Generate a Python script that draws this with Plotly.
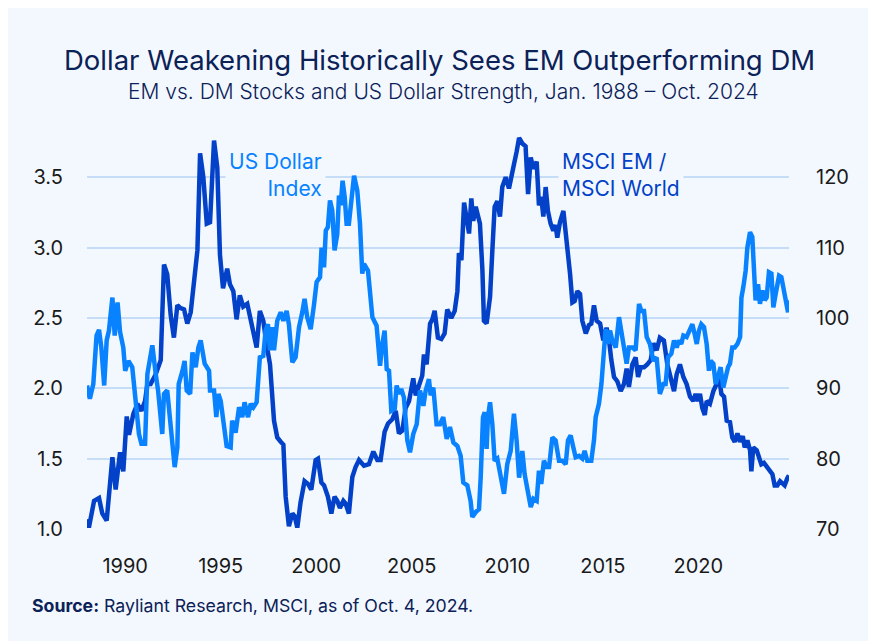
import plotly.graph_objects as go

# ---------------- data ----------------
em_years = [1988.0, 1988.1, 1988.37, 1988.63, 1988.8, 1989.03, 1989.33, 1989.5, 1989.73, 1989.9,
            1990.08, 1990.2, 1990.43, 1990.64, 1990.85, 1991.04, 1991.16, 1991.33, 1991.6, 1991.86,
            1992.03, 1992.2, 1992.38, 1992.55, 1992.73, 1992.9, 1993.08, 1993.25, 1993.43, 1993.6,
            1993.78, 1993.92, 1994.09, 1994.27, 1994.44, 1994.65, 1994.82, 1994.96, 1995.12, 1995.34,
            1995.48, 1995.66, 1995.83, 1996.0, 1996.18, 1996.39, 1996.57, 1996.71, 1996.88, 1997.05,
            1997.23, 1997.4, 1997.58, 1997.79, 1997.96, 1998.14, 1998.28, 1998.4, 1998.57, 1998.75,
            1998.87, 1999.01, 1999.18, 1999.39, 1999.57, 1999.74, 1999.97, 2000.09, 2000.27, 2000.41,
            2000.61, 2000.79, 2000.96, 2001.1, 2001.24, 2001.42, 2001.54, 2001.71, 2001.89, 2002.06,
            2002.24, 2002.5, 2002.76, 2002.99, 2003.2, 2003.37, 2003.58, 2003.76, 2003.98, 2004.16,
            2004.33, 2004.51, 2004.68, 2004.86, 2005.08, 2005.21, 2005.38, 2005.55, 2005.64, 2005.78,
            2005.96, 2006.08, 2006.2, 2006.37, 2006.55, 2006.72, 2006.86, 2007.07, 2007.25, 2007.39,
            2007.47, 2007.6, 2007.74, 2007.88, 2008.0, 2008.12, 2008.22, 2008.35, 2008.57, 2008.7,
            2008.78, 2008.92, 2009.1, 2009.22, 2009.34, 2009.48, 2009.62, 2009.74, 2009.92, 2010.09,
            2010.21, 2010.35, 2010.49, 2010.62, 2010.79, 2010.96, 2011.09, 2011.23, 2011.37, 2011.54,
            2011.66, 2011.78, 2011.89, 2012.01, 2012.13, 2012.27, 2012.41, 2012.53, 2012.62, 2012.76,
            2012.94, 2013.06, 2013.18, 2013.29, 2013.41, 2013.53, 2013.67, 2013.81, 2013.93, 2014.11,
            2014.28, 2014.4, 2014.54, 2014.68, 2014.86, 2015.03, 2015.2, 2015.33, 2015.45, 2015.59,
            2015.76, 2015.94, 2016.11, 2016.25, 2016.37, 2016.55, 2016.72, 2016.85, 2016.99, 2017.16,
            2017.33, 2017.51, 2017.65, 2017.82, 2017.99, 2018.2, 2018.38, 2018.56, 2018.73, 2018.87,
            2019.04, 2019.22, 2019.39, 2019.57, 2019.74, 2019.86, 2019.99, 2020.09, 2020.21, 2020.34,
            2020.44, 2020.61, 2020.79, 2020.96, 2021.09, 2021.21, 2021.35, 2021.49, 2021.66, 2021.78,
            2021.91, 2022.05, 2022.19, 2022.33, 2022.43, 2022.57, 2022.71, 2022.78, 2022.88, 2023.06,
            2023.18, 2023.3, 2023.44, 2023.62, 2023.76, 2023.88, 2024.0, 2024.14, 2024.28, 2024.4,
            2024.52, 2024.66, 2024.75]
em_ratio = [1.07, 1.01, 1.20, 1.22, 1.11, 1.06, 1.51, 1.28, 1.545, 1.41,
            1.80, 1.67, 1.82, 1.89, 1.84, 1.91, 2.03, 2.03, 2.10, 2.20,
            2.88, 2.81, 2.52, 2.36, 2.59, 2.57, 2.56, 2.46, 2.54, 2.77,
            2.98, 3.67, 3.50, 3.17, 3.18, 3.76, 3.57, 2.95, 2.71, 2.85,
            2.74, 2.69, 2.49, 2.66, 2.58, 2.60, 2.48, 2.41, 2.29, 2.55,
            2.48, 2.31, 2.17, 1.77, 1.65, 1.62, 1.60, 1.23, 1.02, 1.11,
            1.09, 1.01, 1.19, 1.34, 1.32, 1.28, 1.49, 1.50, 1.33, 1.31,
            1.23, 1.11, 1.23, 1.20, 1.15, 1.20, 1.18, 1.11, 1.37, 1.44,
            1.49, 1.45, 1.46, 1.55, 1.49, 1.49, 1.69, 1.75, 1.78, 1.84,
            1.68, 1.70, 1.86, 1.91, 2.07, 1.95, 2.01, 2.09, 2.24, 2.17,
            2.46, 2.49, 2.55, 2.36, 2.35, 2.39, 2.56, 2.50, 2.55, 2.69,
            2.96, 2.91, 3.32, 3.22, 3.10, 3.35, 3.19, 3.29, 3.17, 2.84,
            2.48, 2.46, 2.65, 2.98, 3.29, 3.33, 3.22, 3.43, 3.50, 3.42,
            3.52, 3.59, 3.68, 3.78, 3.74, 3.72, 3.38, 3.64, 3.56, 3.61,
            3.30, 3.36, 3.22, 3.43, 3.26, 3.17, 3.12, 3.16, 3.07, 3.18,
            3.26, 3.12, 2.93, 2.81, 2.61, 2.62, 2.69, 2.67, 2.48, 2.39,
            2.45, 2.46, 2.59, 2.48, 2.46, 2.34, 2.43, 2.34, 2.20, 2.08,
            2.05, 1.98, 2.03, 2.14, 2.01, 2.17, 2.22, 2.08, 2.15, 2.15,
            2.17, 2.20, 2.32, 2.27, 2.36, 2.34, 2.17, 2.08, 1.98, 2.10,
            2.17, 2.08, 2.03, 1.94, 1.91, 1.96, 1.91, 1.96, 1.86, 1.81,
            1.91, 1.89, 1.98, 2.03, 2.08, 1.96, 1.94, 1.77, 1.76, 1.65,
            1.62, 1.68, 1.62, 1.66, 1.58, 1.63, 1.56, 1.41, 1.58, 1.56,
            1.51, 1.46, 1.47, 1.44, 1.41, 1.39, 1.31, 1.31, 1.34, 1.32,
            1.31, 1.36, 1.38]

usd_years = [1988.0, 1988.15, 1988.33, 1988.5, 1988.63, 1988.75, 1988.9, 1989.03, 1989.15, 1989.33,
             1989.45, 1989.6, 1989.73, 1989.9, 1990.0, 1990.17, 1990.37, 1990.55, 1990.72, 1990.85,
             1991.04, 1991.16, 1991.42, 1991.6, 1991.72, 1991.94, 1992.03, 1992.2, 1992.35, 1992.59,
             1992.73, 1992.8, 1993.0, 1993.11, 1993.22, 1993.4, 1993.52, 1993.69, 1993.83, 1993.95,
             1994.16, 1994.39, 1994.44, 1994.65, 1994.77, 1994.88, 1995.0, 1995.17, 1995.31, 1995.52,
             1995.6, 1995.78, 1995.96, 1996.13, 1996.25, 1996.43, 1996.57, 1996.71, 1996.88, 1997.05,
             1997.23, 1997.35, 1997.47, 1997.58, 1997.7, 1997.79, 1997.96, 1998.14, 1998.28, 1998.45,
             1998.57, 1998.66, 1998.75, 1998.92, 1999.1, 1999.27, 1999.39, 1999.53, 1999.71, 1999.88,
             2000.02, 2000.2, 2000.28, 2000.41, 2000.5, 2000.61, 2000.72, 2000.84, 2000.96, 2001.1,
             2001.19, 2001.28, 2001.38, 2001.49, 2001.59, 2001.71, 2001.84, 2001.98, 2002.15, 2002.29,
             2002.41, 2002.5, 2002.71, 2002.94, 2003.16, 2003.34, 2003.46, 2003.58, 2003.69, 2003.81,
             2003.93, 2004.11, 2004.21, 2004.33, 2004.45, 2004.59, 2004.77, 2004.91, 2005.08, 2005.26,
             2005.43, 2005.61, 2005.73, 2005.9, 2005.99, 2006.13, 2006.3, 2006.48, 2006.65, 2006.83,
             2007.0, 2007.18, 2007.39, 2007.56, 2007.7, 2007.91, 2008.08, 2008.17, 2008.35, 2008.52,
             2008.61, 2008.73, 2008.82, 2008.92, 2008.99, 2009.1, 2009.22, 2009.34, 2009.48, 2009.66,
             2009.83, 2010.0, 2010.18, 2010.35, 2010.49, 2010.62, 2010.79, 2010.91, 2011.09, 2011.23,
             2011.37, 2011.54, 2011.66, 2011.78, 2011.92, 2012.06, 2012.19, 2012.36, 2012.53, 2012.71,
             2012.88, 2013.06, 2013.18, 2013.32, 2013.46, 2013.58, 2013.76, 2013.93, 2014.05, 2014.19,
             2014.4, 2014.54, 2014.63, 2014.8, 2014.93, 2015.03, 2015.15, 2015.28, 2015.38, 2015.5,
             2015.68, 2015.85, 2015.97, 2016.11, 2016.25, 2016.37, 2016.55, 2016.72, 2016.9, 2017.02,
             2017.16, 2017.3, 2017.47, 2017.65, 2017.82, 2017.99, 2018.17, 2018.29, 2018.42, 2018.59,
             2018.73, 2018.87, 2018.99, 2019.11, 2019.22, 2019.39, 2019.52, 2019.69, 2019.81, 2019.92,
             2020.04, 2020.16, 2020.3, 2020.44, 2020.56, 2020.65, 2020.79, 2020.91, 2021.03, 2021.17,
             2021.31, 2021.44, 2021.56, 2021.66, 2021.78, 2021.91, 2022.05, 2022.19, 2022.26, 2022.36,
             2022.48, 2022.57, 2022.71, 2022.83, 2022.92, 2023.0, 2023.13, 2023.23, 2023.36, 2023.48,
             2023.58, 2023.7, 2023.83, 2023.93, 2024.05, 2024.23, 2024.35, 2024.49, 2024.63, 2024.7,
             2024.75]
usd_index = [90.4, 88.5, 90.6, 97.5, 98.3, 95.8, 90.4, 96.8, 98.2, 102.9,
             97.5, 102.2, 98.0, 95.8, 92.5, 93.9, 93.0, 88.7, 83.5, 82.1,
             82.1, 92.0, 96.1, 92.0, 89.7, 83.5, 89.2, 89.7, 85.4, 78.8,
             81.6, 90.6, 92.5, 93.9, 89.7, 89.2, 95.1, 93.0, 95.8, 96.8,
             93.5, 92.5, 89.7, 89.7, 85.9, 89.2, 88.2, 84.0, 81.8, 81.6,
             85.4, 83.7, 87.3, 85.9, 88.0, 85.9, 87.8, 87.3, 88.0, 94.4,
             94.6, 98.2, 99.1, 95.4, 98.7, 95.4, 99.6, 100.8, 99.6, 101.0,
             99.1, 96.3, 93.7, 94.4, 98.7, 100.8, 102.7, 100.1, 98.4, 101.8,
             105.1, 105.8, 110.0, 107.2, 112.4, 112.9, 116.7, 115.3, 109.6, 111.9,
             117.4, 116.0, 119.5, 117.2, 113.4, 113.4, 116.4, 120.2, 118.1, 113.4,
             106.3, 107.7, 106.7, 100.1, 98.9, 93.2, 96.3, 98.2, 92.7, 92.5,
             86.8, 87.1, 90.4, 89.2, 89.9, 88.7, 82.6, 80.9, 83.5, 84.9,
             89.7, 87.5, 89.7, 91.3, 89.0, 90.1, 84.9, 84.9, 85.9, 82.8,
             84.5, 82.3, 81.8, 80.4, 76.6, 76.2, 74.0, 71.7, 72.4, 72.8,
             77.3, 85.9, 86.6, 81.4, 85.9, 88.0, 84.9, 79.7, 80.0, 77.3,
             75.0, 79.2, 81.1, 86.4, 82.6, 77.3, 81.1, 77.8, 75.5, 73.1,
             74.3, 74.0, 78.3, 76.4, 79.7, 78.8, 78.8, 83.0, 82.6, 79.7,
             79.7, 79.2, 82.6, 83.3, 81.6, 80.2, 80.4, 80.0, 81.1, 79.7,
             79.7, 82.6, 85.9, 87.8, 90.6, 95.4, 98.4, 96.3, 98.2, 96.8,
             95.8, 100.1, 98.2, 96.3, 93.5, 95.8, 95.8, 95.4, 102.0, 101.0,
             101.0, 97.3, 96.3, 93.9, 94.4, 89.2, 90.6, 90.6, 94.4, 94.9,
             96.8, 95.8, 96.8, 96.3, 97.5, 97.3, 98.2, 99.1, 97.7, 96.3,
             98.2, 99.1, 98.7, 96.3, 92.5, 93.9, 93.5, 90.6, 91.6, 93.0,
             90.1, 92.0, 93.0, 93.5, 95.8, 95.8, 96.3, 97.3, 102.9, 104.4,
             106.7, 110.0, 112.2, 111.5, 104.8, 102.5, 104.8, 102.0, 103.9, 102.5,
             102.9, 106.5, 106.3, 101.5, 103.4, 106.0, 105.8, 103.4, 101.5, 100.8,
             102.5]

x_ticks = [1990, 1995, 2000, 2005, 2010, 2015, 2020]
left_ticks = [1.0, 1.5, 2.0, 2.5, 3.0, 3.5]
right_ticks = [70, 80, 90, 100, 110, 120]

TITLE = "Dollar Weakening Historically Sees EM Outperforming DM"
SUBTITLE = "EM vs. DM Stocks and US Dollar Strength, Jan. 1988 \u2013 Oct. 2024"
SOURCE = "<b>Source:</b> Rayliant Research, MSCI, as of Oct. 4, 2024."

# ---------------- styling ----------------
W, H = 860, 633
L, R, T, B = 79, 79, 127, 112
PW, PH = W - L - R, H - T - B
PANEL = "#f3f8fe"
DARK = "#0241c8"
LIGHT = "#0882ff"
NAVY = "#0b2157"
GRID = "#c6ddf8"
FONT = "Inter"
OFF = 8  # page offset of the figure inside the browser window


def px(xp):
    return (xp - OFF - L) / PW


def py(yp):
    return (H - B - (yp - OFF)) / PH


fig = go.Figure()
fig.add_trace(go.Scatter(x=usd_years, y=usd_index, mode="lines", yaxis="y2",
                         line=dict(color=LIGHT, width=4.5), name="US Dollar Index",
                         hoverinfo="skip"))
fig.add_trace(go.Scatter(x=em_years, y=em_ratio, mode="lines", yaxis="y",
                         line=dict(color=DARK, width=4.5), name="MSCI EM / MSCI World",
                         hoverinfo="skip"))

fig.update_layout(
    width=W, height=H,
    margin=dict(l=L, r=R, t=T, b=B),
    paper_bgcolor=PANEL,
    plot_bgcolor="rgba(0,0,0,0)",
    showlegend=False,
    font=dict(family=FONT, color="#1a1a1a"),
    xaxis=dict(range=[1988.0, 2024.75], tickvals=x_ticks, ticktext=[str(t) for t in x_ticks],
               showgrid=False, zeroline=False, showline=False, ticks="",
               tickfont=dict(size=20, color="#1a1a1a"), ticklabelstandoff=23),
    yaxis=dict(range=[1.0, 3.8], tickvals=left_ticks, ticktext=[f"{v:.1f}" for v in left_ticks],
               showgrid=True, gridcolor=GRID, gridwidth=2, zeroline=False, showline=False,
               ticks="", tickfont=dict(size=20, color="#1a1a1a"), ticklabelstandoff=23),
    yaxis2=dict(range=[70, 126], tickvals=right_ticks, ticktext=[str(v) for v in right_ticks],
                overlaying="y", side="right", showgrid=False, zeroline=False, showline=False,
                ticks="", tickfont=dict(size=20, color="#1a1a1a"), ticklabelstandoff=26),
    annotations=[
        dict(text=TITLE, xref="paper", yref="paper", x=px(440), y=py(60), xanchor="center",
             yanchor="middle", showarrow=False,
             font=dict(size=27.5, color=NAVY, family=FONT, weight=400)),
        dict(text=SUBTITLE, xref="paper", yref="paper", x=px(443), y=py(92), xanchor="center",
             yanchor="middle", showarrow=False,
             font=dict(size=21, color=NAVY, family=FONT, weight=300)),
        dict(text=SOURCE, xref="paper", yref="paper", x=px(30), y=py(605), xanchor="left",
             yanchor="middle", showarrow=False,
             font=dict(size=17.7, color=NAVY, family=FONT)),
        dict(text="US Dollar<br>Index", xref="paper", yref="paper", x=px(326), y=py(175),
             xanchor="right", yanchor="middle", align="right", showarrow=False,
             bgcolor=PANEL, borderpad=3,
             font=dict(size=21, color=LIGHT, family=FONT)),
        dict(text="MSCI EM /<br>MSCI World", xref="paper", yref="paper", x=px(558), y=py(175),
             xanchor="left", yanchor="middle", align="left", showarrow=False,
             bgcolor=PANEL, borderpad=3,
             font=dict(size=21, color=DARK, family=FONT)),
    ],
)

fig.write_html("out.html")
